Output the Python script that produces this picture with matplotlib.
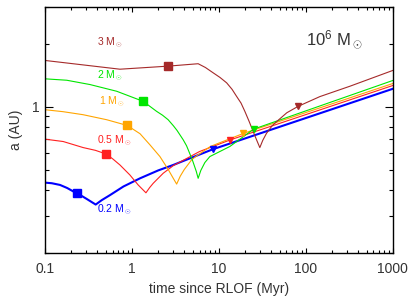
import matplotlib
matplotlib.use("Agg")
import matplotlib.pyplot as plt

plt.rcParams["font.family"] = "Liberation Sans"
plt.rcParams["mathtext.fontset"] = "custom"
plt.rcParams["mathtext.rm"] = "Liberation Sans"
plt.rcParams["mathtext.it"] = "Liberation Sans"

# ---------------------------------------------------------------------------
# Données : a (AU) en fonction du temps depuis RLOF (Myr)
# ---------------------------------------------------------------------------
t_02 = [0.1, 0.12, 0.149, 0.18, 0.231, 0.27, 0.301, 0.383, 0.45, 0.558, 0.8,
        1.24, 2.0, 2.99, 8.5, 1000]
a_02 = [0.433, 0.430, 0.422, 0.408, 0.385, 0.372, 0.362, 0.340, 0.357, 0.377, 0.415,
        0.454, 0.495, 0.526, 0.625, 1.217]

t_05 = [0.1, 0.162, 0.275, 0.38, 0.502, 0.6, 0.728, 0.948, 1.18, 1.45, 1.6, 1.76,
        2.29, 2.99, 6.0, 13.6, 1000]
a_05 = [0.699, 0.681, 0.637, 0.618, 0.594, 0.563, 0.526, 0.471, 0.422, 0.387, 0.41, 0.430,
        0.480, 0.522, 0.610, 0.694, 1.262]

t_1 = [0.1, 0.162, 0.275, 0.512, 0.883, 1.24, 1.61, 2.1, 2.61, 2.99, 3.27, 3.6,
       4.0, 4.85, 5.5, 8.0, 19.2, 1000]
a_1 = [0.967, 0.946, 0.915, 0.866, 0.813, 0.742, 0.657, 0.577, 0.501, 0.454, 0.426, 0.465,
       0.50, 0.556, 0.58, 0.645, 0.745, 1.29]

t_2 = [0.1, 0.178, 0.329, 0.668, 1.35, 1.92, 2.25, 2.61, 3.0, 3.3, 3.89, 4.25, 4.6,
       5.0, 5.5, 5.78, 6.2, 6.9, 7.88, 13.4, 25.2, 1000]
a_2 = [1.359, 1.338, 1.276, 1.185, 1.06, 0.95, 0.91, 0.866, 0.81, 0.77, 0.694, 0.65, 0.60,
       0.55, 0.49, 0.454, 0.495, 0.54, 0.577, 0.645, 0.781, 1.334]

t_3 = [0.1, 0.728, 2.61, 5.78, 7.0, 8.6, 10.3, 12.3, 14.2, 16.0, 18.0, 19.9, 22.3, 24.8,
       27.3, 29.6, 32.0, 35.3, 41.0, 48.0, 60.5, 81.5, 145, 321, 1000]
a_3 = [1.664, 1.511, 1.563, 1.605, 1.54, 1.452, 1.38, 1.30, 1.21, 1.12, 1.04, 0.95, 0.85, 0.761,
       0.69, 0.637, 0.69, 0.745, 0.81, 0.86, 0.935, 1.003, 1.117, 1.252, 1.49]

# marqueurs : carrés (début) et triangles (fin)
carre_t = [0.231, 0.502, 0.883, 1.35, 2.61]
carre_a = [0.385, 0.594, 0.813, 1.06, 1.563]
tri_t = [8.5, 13.6, 19.2, 25.2, 81.5]
tri_a = [0.625, 0.694, 0.745, 0.781, 1.003]

masses = ["0.2", "0.5", "1", "2", "3"]
couleurs = ["#0000ff", "#ff2020", "#ffa500", "#00e600", "#a52a2a"]
courbes = [(t_02, a_02), (t_05, a_05), (t_1, a_1), (t_2, a_2), (t_3, a_3)]
epaisseurs = [1.5, 0.8, 0.8, 0.8, 0.8]

# positions des étiquettes (fraction des axes)
pos_labels = [(0.150, 0.174), (0.150, 0.456), (0.155, 0.615), (0.150, 0.719), (0.150, 0.853)]

fig = plt.figure(figsize=(4.15, 3.03), dpi=100)
ax = fig.add_axes([0.1084, 0.166, 0.8379, 0.811])

for i, (t, a) in enumerate(courbes):
    ax.plot(t, a, color=couleurs[i], lw=epaisseurs[i], zorder=2)
for i in range(len(masses)):
    ax.plot(carre_t[i], carre_a[i], marker="s", ms=5.5, color=couleurs[i], zorder=3)
    ax.plot(tri_t[i], tri_a[i], marker="v", ms=5, color=couleurs[i], zorder=3)
    ax.text(pos_labels[i][0], pos_labels[i][1], masses[i] + r" M$_\odot$",
            transform=ax.transAxes, color=couleurs[i], fontsize=7.5,
            ha="left", va="center")

ax.text(0.751, 0.866, r"10$^6$ M$_\odot$", transform=ax.transAxes,
        color="#333333", fontsize=12, ha="left", va="center")

ax.set_xscale("log")
ax.set_yscale("log")
ax.set_xlim(0.1, 1000)
ax.set_ylim(0.2, 3.0)

ax.set_xticks([0.1, 1, 10, 100, 1000])
ax.set_xticklabels(["0.1", "1", "10", "100", "1000"])
ax.set_yticks([1])
ax.set_yticklabels(["1"])
ax.yaxis.set_minor_locator(matplotlib.ticker.LogLocator(base=10, subs=range(2, 10)))
ax.yaxis.set_minor_formatter(matplotlib.ticker.NullFormatter())

ax.tick_params(which="both", direction="in", top=True, right=True,
               labelsize=10, labelcolor="#333333", width=0.8)
ax.tick_params(axis="x", which="major", length=3.6, pad=7)
ax.tick_params(axis="x", which="minor", length=2.0)
ax.tick_params(axis="y", which="major", length=5.8, pad=3.5)
ax.tick_params(axis="y", which="minor", length=3.1)

ax.set_xlabel("time since RLOF (Myr)", fontsize=10, color="#333333", labelpad=4)
ax.set_ylabel("a (AU)", fontsize=10, color="#333333", labelpad=7)

for s in ax.spines.values():
    s.set_linewidth(1.0)

fig.savefig("out.png", dpi=100)
